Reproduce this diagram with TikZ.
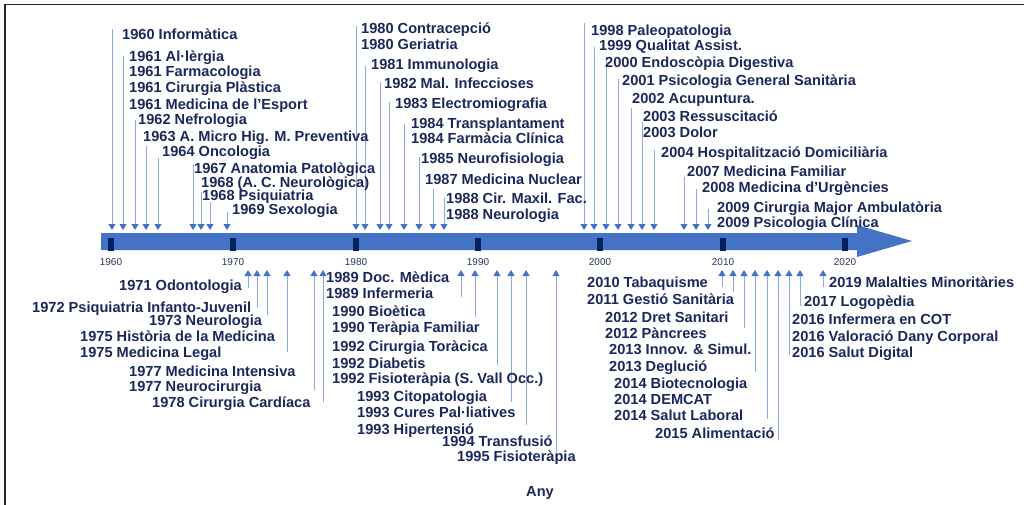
\documentclass[tikz,border=0pt]{standalone}
\usepackage{fontspec}
\setmainfont{Liberation Sans}
\usetikzlibrary{arrows.meta}
\definecolor{barblue}{RGB}{68,114,196}
\definecolor{lineblue}{RGB}{143,170,220}
\definecolor{ticknavy}{RGB}{0,32,96}
\definecolor{txtnavy}{RGB}{28,40,92}
\definecolor{yeargray}{RGB}{40,55,95}
\tikzset{
  lbl/.style={anchor=base west,inner sep=0pt,text=txtnavy,font=\fontsize{14.6}{16}\selectfont\bfseries},
  yearlbl/.style={anchor=center,inner sep=0pt,text=yeargray,font=\fontsize{10}{12}\selectfont},
  conn/.style={draw=lineblue,line width=1pt,-{Triangle[width=7pt,length=6pt,color=barblue]}},
  tickmark/.style={fill=ticknavy,draw=none},
  framel/.style={draw=black!85,line width=1.5pt}
}
\begin{document}
\begin{tikzpicture}[x=1pt,y=-1pt]
\useasboundingbox (0,0) rectangle (1024,505);
\fill[white] (0,0) rectangle (1024,505);
% frame
\draw[framel] (5,505) -- (5,4.5) -- (1024,4.5);
% bar with arrow head
\fill[barblue] (101,233) -- (857,233) -- (857,225) -- (912,241) -- (857,257) -- (857,250) -- (101,250) -- cycle;
% ticks and year labels
\foreach \yr/\x in {1960/111,1970/233,1980/356,1990/478,2000/600,2010/723,2020/845}{
  \fill[tickmark] (\x-3,238) rectangle (\x+3,251);
  \node[yearlbl] (y\yr) at (\x,262) {\yr};
}
% top arrows (pointing down)
\foreach \n/\x/\y in {1/112/29,2/123/56,3/135/120,4/146/146,5/158/158,6/193/164,7/201/192,8/210/202,9/227/212,
  10/356/26,11/365/66,12/380/82,13/389/102,14/404/124,15/419/157,16/433/189,17/444/197,
  18/584/23,19/594/47,20/606/57,21/618/79,22/631/108,23/642/122,24/654/150,25/684/177,26/696/189,27/708/209}{
  \coordinate (ts\n) at (\x,\y);
  \coordinate (te\n) at (\x,230);
  \draw[conn] (ts\n) -- (te\n);
}
% bottom arrows (pointing up)
\foreach \n/\x/\y in {1/248/288,2/257/308,3/267/315,4/287/352,5/314/390,6/323/402,
  7/461/297,8/475/317,9/497/365,10/511/402,11/526/425,12/556/453,
  13/722/287,14/733/292,15/744/328,16/755/372,17/767/419,18/778/440,19/789/355,20/800/306,21/823/287}{
  \coordinate (bs\n) at (\x,\y);
  \coordinate (be\n) at (\x,270);
  \draw[conn] (bs\n) -- (be\n);
}
% top labels
\node[lbl] (a1) at (122,40) {1960 Informàtica};
\node[lbl] (a2) at (129,62) {1961 Al·lèrgia};
\node[lbl] (a3) at (129,77) {1961 Farmacologia};
\node[lbl] (a4) at (129,93) {1961 Cirurgia Plàstica};
\node[lbl] (a5) at (129,110) {1961 Medicina de l’Esport};
\node[lbl] (a6) at (138,125) {1962 Nefrologia};
\node[lbl] (a7) at (143,142) {1963 A. Micro Hig. M. Preventiva};
\node[lbl] (a8) at (162,157) {1964 Oncologia};
\node[lbl] (a9) at (194,173) {1967 Anatomia Patològica};
\node[lbl] (a10) at (201,187) {1968 (A. C. Neurològica)};
\node[lbl] (a11) at (202,200) {1968 Psiquiatria};
\node[lbl] (a12) at (232,214) {1969 Sexologia};
\node[lbl] (a13) at (361,34) {1980 Contracepció};
\node[lbl] (a14) at (361,50) {1980 Geriatria};
\node[lbl] (a15) at (371,70) {1981 Immunologia};
\node[lbl] (a16) at (384,89) {1982 Mal. Infeccioses};
\node[lbl] (a17) at (395,109) {1983 Electromiografia};
\node[lbl] (a18) at (411,129) {1984 Transplantament};
\node[lbl] (a19) at (411,144) {1984 Farmàcia Clínica};
\node[lbl] (a20) at (421,164) {1985 Neurofisiologia};
\node[lbl] (a21) at (425,184) {1987 Medicina Nuclear};
\node[lbl] (a22) at (446,203) {1988 Cir. Maxil. Fac.};
\node[lbl] (a23) at (446,219) {1988 Neurologia};
\node[lbl] (a24) at (591,36) {1998 Paleopatologia};
\node[lbl] (a25) at (599,51) {1999 Qualitat Assist.};
\node[lbl] (a26) at (605,68) {2000 Endoscòpia Digestiva};
\node[lbl] (a27) at (622,86) {2001 Psicologia General Sanitària};
\node[lbl] (a28) at (632,104) {2002 Acupuntura.};
\node[lbl] (a29) at (643,122) {2003 Ressuscitació};
\node[lbl] (a30) at (643,138) {2003 Dolor};
\node[lbl] (a31) at (661,158) {2004 Hospitalització Domiciliària};
\node[lbl] (a32) at (687,176) {2007 Medicina Familiar};
\node[lbl] (a33) at (702,193) {2008 Medicina d’Urgències};
\node[lbl] (a34) at (717,212) {2009 Cirurgia Major Ambulatòria};
\node[lbl] (a35) at (717,227) {2009 Psicologia Clínica};
% bottom labels
\node[lbl] (b1) at (119,290) {1971 Odontologia};
\node[lbl] (b2) at (32,312) {1972 Psiquiatria Infanto-Juvenil};
\node[lbl] (b3) at (149,325) {1973 Neurologia};
\node[lbl] (b4) at (80,341) {1975 Història de la Medicina};
\node[lbl] (b5) at (80,357) {1975 Medicina Legal};
\node[lbl] (b6) at (129,376) {1977 Medicina Intensiva};
\node[lbl] (b7) at (129,391) {1977 Neurocirurgia};
\node[lbl] (b8) at (152,407) {1978 Cirurgia Cardíaca};
\node[lbl] (b9) at (326,282) {1989 Doc. Mèdica};
\node[lbl] (b10) at (326,298) {1989 Infermeria};
\node[lbl] (b11) at (332,316) {1990 Bioètica};
\node[lbl] (b12) at (332,332) {1990 Teràpia Familiar};
\node[lbl] (b13) at (332,351) {1992 Cirurgia Toràcica};
\node[lbl] (b14) at (332,368) {1992 Diabetis};
\node[lbl] (b15) at (332,383) {1992 Fisioteràpia (S. Vall Occ.)};
\node[lbl] (b16) at (357,401) {1993 Citopatologia};
\node[lbl] (b17) at (357,417) {1993 Cures Pal·liatives};
\node[lbl] (b18) at (357,434) {1993 Hipertensió};
\node[lbl] (b19) at (442,446) {1994 Transfusió};
\node[lbl] (b20) at (457,461) {1995 Fisioteràpia};
\node[lbl] (b21) at (587,287) {2010 Tabaquisme};
\node[lbl] (b22) at (587,304) {2011 Gestió Sanitària};
\node[lbl] (b23) at (605,322) {2012 Dret Sanitari};
\node[lbl] (b24) at (605,338) {2012 Pàncrees};
\node[lbl] (b25) at (609,354) {2013 Innov. \& Simul.};
\node[lbl] (b26) at (609,371) {2013 Deglució};
\node[lbl] (b27) at (614,388) {2014 Biotecnologia};
\node[lbl] (b28) at (614,404) {2014 DEMCAT};
\node[lbl] (b29) at (614,420) {2014 Salut Laboral};
\node[lbl] (b30) at (655,438) {2015 Alimentació};
\node[lbl] (b31) at (829,287) {2019 Malalties Minoritàries};
\node[lbl] (b32) at (804,306) {2017 Logopèdia};
\node[lbl] (b33) at (792,324) {2016 Infermera en COT};
\node[lbl] (b34) at (792,341) {2016 Valoració Dany Corporal};
\node[lbl] (b35) at (792,357) {2016 Salut Digital};
% axis title
\node[lbl,anchor=base] (axis) at (540,496) {Any};
\end{tikzpicture}
\end{document}
